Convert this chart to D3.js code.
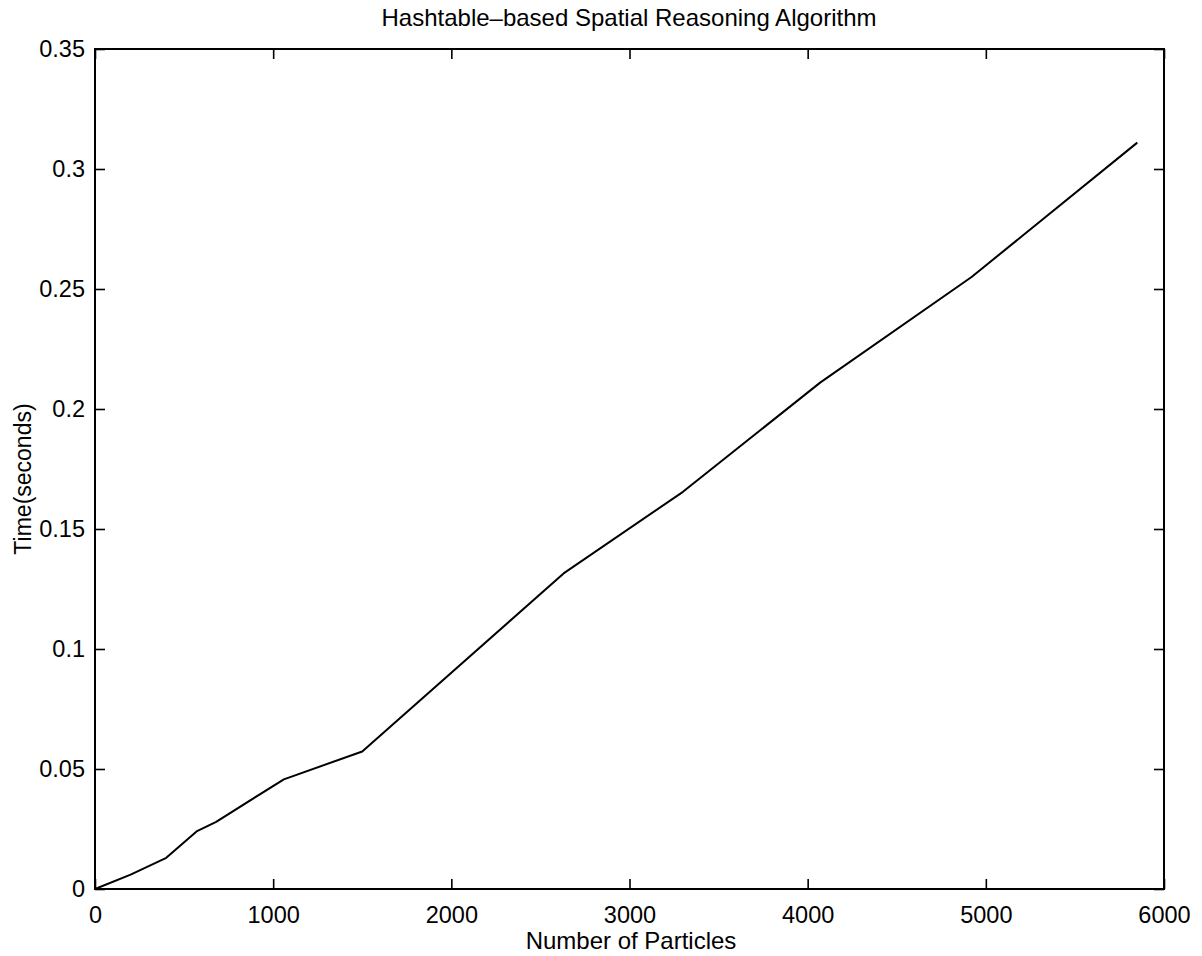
<!DOCTYPE html>
<html>
<head>
<meta charset="utf-8">
<script src="https://cdn.jsdelivr.net/npm/d3@7"></script>
<style>
  html, body { margin: 0; padding: 0; background: #fff; }
  svg { display: block; }
  text { font-family: "Liberation Sans", Arial, Helvetica, sans-serif; fill: #000; }
</style>
</head>
<body>
<svg id="chart" width="1202" height="956"></svg>
<script>
// ---- data ----
const particles = [0, 200, 400, 570, 680, 1060, 1500, 2630, 3300, 4070, 4920, 5850];
const timeSeconds = [0, 0.006, 0.013, 0.024, 0.028, 0.0457, 0.0573, 0.1315, 0.1655, 0.211, 0.255, 0.311];
const xTicks = [0, 1000, 2000, 3000, 4000, 5000, 6000];
const yTicks = [0, 0.05, 0.1, 0.15, 0.2, 0.25, 0.3, 0.35];
const xTickLabels = ["0", "1000", "2000", "3000", "4000", "5000", "6000"];
const yTickLabels = ["0", "0.05", "0.1", "0.15", "0.2", "0.25", "0.3", "0.35"];
const titleText = "Hashtable\u2013based Spatial Reasoning Algorithm";
const xLabelText = "Number of Particles";
const yLabelText = "Time(seconds)";

// ---- layout ----
const L = 95, R = 1164, T = 49, B = 889;
const tickLen = 10;
const fs = 23.5;

const svg = d3.select("#chart");
const x = d3.scaleLinear().domain([0, 6000]).range([L, R]);
const y = d3.scaleLinear().domain([0, 0.35]).range([B, T]);

// axes with inward ticks
const xAxisB = d3.axisBottom(x).tickValues(xTicks).tickSize(-tickLen).tickPadding(17)
  .tickFormat((d, i) => xTickLabels[i]);
const xAxisT = d3.axisTop(x).tickValues(xTicks).tickSize(-tickLen).tickFormat("");
const yAxisL = d3.axisLeft(y).tickValues(yTicks).tickSize(-tickLen).tickPadding(10)
  .tickFormat((d, i) => yTickLabels[i]);
const yAxisR = d3.axisRight(y).tickValues(yTicks).tickSize(-tickLen).tickFormat("");

function style(g) {
  g.select(".domain").remove();
  g.selectAll(".tick line").attr("stroke", "#000").attr("stroke-width", 1.6);
  g.selectAll(".tick text").attr("font-size", fs).attr("fill", "#000")
    .style("font-family", '"Liberation Sans", Arial, sans-serif');
}

svg.append("g").attr("transform", `translate(0,${B})`).call(xAxisB).call(style);
svg.append("g").attr("transform", `translate(0,${T})`).call(xAxisT).call(style);
svg.append("g").attr("transform", `translate(${L},0)`).call(yAxisL).call(style);
svg.append("g").attr("transform", `translate(${R},0)`).call(yAxisR).call(style);

// box
svg.append("rect").attr("x", L).attr("y", T).attr("width", R - L).attr("height", B - T)
  .attr("fill", "none").attr("stroke", "#000").attr("stroke-width", 2);

// line
const pts = particles.map((p, i) => [p, timeSeconds[i]]);
const line = d3.line().x(d => x(d[0])).y(d => y(d[1]));
svg.append("path").datum(pts).attr("d", line)
  .attr("fill", "none").attr("stroke", "#000").attr("stroke-width", 2).attr("stroke-linejoin", "round");

// title and labels
svg.append("text").attr("x", 629).attr("y", 26).attr("text-anchor", "middle")
  .attr("font-size", 24).text(titleText);
svg.append("text").attr("x", 631).attr("y", 949).attr("text-anchor", "middle")
  .attr("font-size", 24).text(xLabelText);
svg.append("text").attr("transform", `translate(31,${(T + B) / 2 + 10}) rotate(-90)`)
  .attr("text-anchor", "middle").attr("font-size", 23).text(yLabelText);
</script>
</body>
</html>
